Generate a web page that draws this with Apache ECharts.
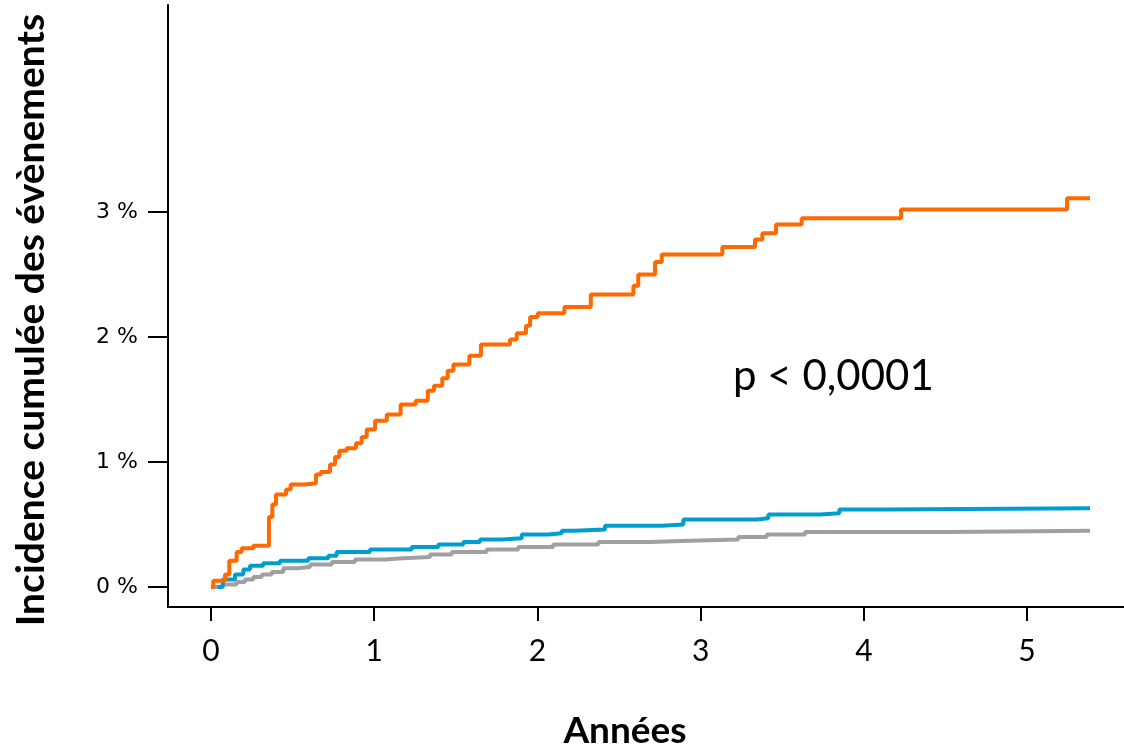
<!DOCTYPE html>
<html>
<head>
<meta charset="utf-8">
<script src="https://cdn.jsdelivr.net/npm/echarts@6/dist/echarts.min.js"></script>
<style>html,body{margin:0;padding:0;background:#fff}#c{width:1124px;height:748px}</style>
</head>
<body>
<div id="c"></div>
<script>
// Years (step times) and cumulative incidence (%)
const orangeT = [0, 0.014, 0.086, 0.112, 0.157, 0.188, 0.259, 0.355, 0.376, 0.398, 0.46, 0.488, 0.576, 0.643, 0.672, 0.729, 0.76, 0.786, 0.831, 0.888, 0.923, 0.954, 1.005, 1.077, 1.162, 1.254, 1.328, 1.366, 1.417, 1.45, 1.485, 1.583, 1.654, 1.832, 1.873, 1.93, 1.955, 2.002, 2.165, 2.327, 2.588, 2.618, 2.721, 2.762, 3.133, 3.333, 3.378, 3.462, 3.619, 4.228, 5.245, 5.386];
const orangeV = [0, 0.05, 0.10, 0.21, 0.28, 0.31, 0.33, 0.56, 0.66, 0.74, 0.78, 0.82, 0.83, 0.90, 0.92, 0.98, 1.04, 1.09, 1.11, 1.15, 1.20, 1.26, 1.33, 1.38, 1.46, 1.49, 1.57, 1.61, 1.67, 1.73, 1.78, 1.85, 1.94, 1.98, 2.03, 2.09, 2.16, 2.19, 2.24, 2.34, 2.41, 2.50, 2.60, 2.66, 2.72, 2.78, 2.83, 2.90, 2.95, 3.02, 3.11, 3.11];
const blueT = [0.04, 0.072, 0.147, 0.198, 0.239, 0.32, 0.423, 0.596, 0.719, 0.77, 0.974, 1.23, 1.393, 1.546, 1.648, 1.781, 1.904, 2.067, 2.149, 2.23, 2.414, 2.762, 2.894, 3.344, 3.415, 3.732, 3.85, 4.124, 5.386];
const blueV = [0, 0.06, 0.10, 0.14, 0.17, 0.19, 0.21, 0.23, 0.25, 0.28, 0.30, 0.32, 0.34, 0.36, 0.38, 0.39, 0.42, 0.43, 0.45, 0.46, 0.49, 0.50, 0.54, 0.55, 0.58, 0.59, 0.62, 0.63, 0.63];
const greyT = [0, 0.07, 0.157, 0.208, 0.259, 0.311, 0.372, 0.443, 0.525, 0.607, 0.74, 0.882, 1.066, 1.178, 1.342, 1.475, 1.689, 1.883, 2.097, 2.373, 2.69, 2.935, 3.231, 3.405, 3.64, 4.528, 5.386];
const greyV = [0, 0.02, 0.04, 0.06, 0.08, 0.10, 0.12, 0.15, 0.16, 0.18, 0.20, 0.22, 0.23, 0.24, 0.26, 0.28, 0.30, 0.32, 0.34, 0.36, 0.37, 0.38, 0.40, 0.42, 0.44, 0.45, 0.45];
const xTicks = [0, 1, 2, 3, 4, 5];
const yTicks = [0, 1, 2, 3];
const pText = 'p < 0,0001';

const zip = (t, v) => t.map((x, i) => [x, v[i]]);
const chart = echarts.init(document.getElementById('c'), null, {renderer: 'canvas'});
chart.setOption({
  animation: false,
  backgroundColor: '#fff',
  grid: {left: 168, top: 5, right: 0, bottom: 141, containLabel: false, outerBoundsMode: 'none'},
  xAxis: {
    type: 'value', min: -0.2635, max: 5.594,
    name: 'Années', nameLocation: 'middle', nameGap: 106,
    nameTextStyle: {fontFamily: 'Lato', fontWeight: 'bold', fontSize: 37, color: '#000', padding: [0, 42, 0, 0]},
    axisLine: {show: true, onZero: false, lineStyle: {color: '#000', width: 2}},
    axisTick: {show: true, length: 14, lineStyle: {color: '#000', width: 2}, customValues: xTicks},
    axisLabel: {customValues: xTicks, fontFamily: 'Lato', fontSize: 30, color: '#000', margin: 29},
    splitLine: {show: false}
  },
  yAxis: {
    type: 'value', min: -0.16, max: 4.656,
    name: 'Incidence cumulée des évènements', nameLocation: 'middle', nameGap: 117, nameRotate: 90,
    nameTextStyle: {fontFamily: 'Lato', fontWeight: 'bold', fontSize: 39, color: '#000', padding: [0, 28, 0, 0]},
    axisLine: {show: true, onZero: false, lineStyle: {color: '#000', width: 2}},
    axisTick: {show: true, length: 20, lineStyle: {color: '#000', width: 2}, customValues: yTicks},
    axisLabel: {customValues: yTicks, formatter: '{value} %', fontFamily: 'DejaVu Sans', fontSize: 22, color: '#000', margin: 30},
    splitLine: {show: false}
  },
  graphic: [{
    type: 'text', left: 733, top: 355,
    style: {text: pText, fontFamily: 'Lato', fontSize: 42, fill: '#000'}
  }],
  series: [
    {type: 'line', step: 'end', data: zip(greyT, greyV), showSymbol: false, lineStyle: {color: '#A0A0A0', width: 4}, itemStyle: {color: '#A0A0A0'}, z: 2},
    {type: 'line', step: 'end', data: zip(blueT, blueV), showSymbol: false, lineStyle: {color: '#009ECE', width: 4}, itemStyle: {color: '#009ECE'}, z: 3},
    {type: 'line', step: 'end', data: zip(orangeT, orangeV), showSymbol: false, lineStyle: {color: '#FF6A00', width: 4}, itemStyle: {color: '#FF6A00'}, z: 4}
  ]
});
</script>
</body>
</html>
